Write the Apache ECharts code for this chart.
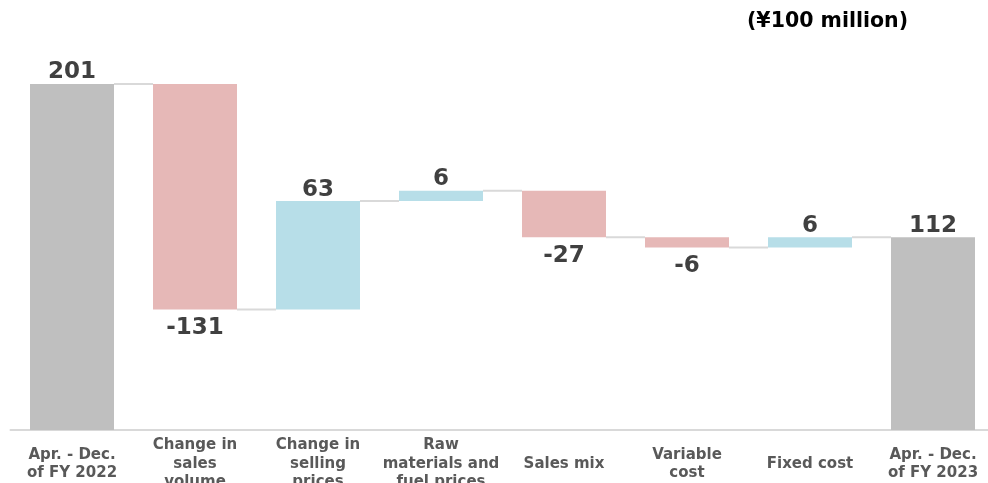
<!DOCTYPE html>
<html>
<head>
<meta charset="utf-8">
<script src="https://cdn.jsdelivr.net/npm/echarts@6/dist/echarts.min.js"></script>
<style>html,body{margin:0;padding:0;background:#fff}#c{width:988px;height:483px}</style>
</head>
<body>
<div id="c"></div>
<script>
const categories = ["Apr. - Dec.\nof FY 2022","Change in\nsales\nvolume","Change in\nselling\nprices","Raw\nmaterials and\nfuel prices","Sales mix","Variable\ncost","Fixed cost","Apr. - Dec.\nof FY 2023"];
const values = [201, -131, 63, 6, -27, -6, 6, 112];
const kinds = ["total","delta","delta","delta","delta","delta","delta","total"];
const unitLabel = "(¥100 million)";

const colors = {total:"#bfbfbf", pos:"#b7dee8", neg:"#e6b8b7"};
const FONT = "DejaVu Sans";
const BAR_W = 84;

// compute waterfall bases
const bases = [], heights = [], levels = [];
let run = 0;
values.forEach((v,i)=>{
  if (kinds[i]==="total"){ bases.push(0); heights.push(v); run = v; }
  else if (v>=0){ bases.push(run); heights.push(v); run += v; }
  else { bases.push(run+v); heights.push(-v); run += v; }
  levels.push(run);
});

const barData = heights.map((h,i)=>{
  const v = values[i];
  const col = kinds[i]==="total" ? colors.total : (v>=0?colors.pos:colors.neg);
  return {
    value: h,
    itemStyle:{color: col},
    label:{show:true, position: v>=0?'top':'bottom', distance: v>=0?0:7, formatter: String(v)}
  };
});

const chart = echarts.init(document.getElementById('c'), null, {renderer:'canvas'});
chart.setOption({
  animation:false,
  grid:{left:10.5, width:984, top:51.3, height:378.7, containLabel:false, outerBoundsMode:'none'},
  xAxis:{
    type:'category', data:categories,
    axisLine:{lineStyle:{color:'#d9d9d9', width:2}},
    axisTick:{show:false},
    axisLabel:{interval:0, color:'#595959', fontFamily:FONT, fontWeight:'bold', fontSize:15, lineHeight:18.5, verticalAlign:'middle', margin:34, align:'center'}
  },
  yAxis:{type:'value', min:0, max:220, show:false, splitLine:{show:false}},
  graphic:[{type:'text', left:747, top:11, style:{text:unitLabel, fill:'#000', font:'bold 20.5px "'+FONT+'"'}}],
  series:[
    {
      type:'custom', z:1,
      renderItem:function(params, api){
        const i = params.dataIndex;
        if (i >= levels.length-1) return;
        const p1 = api.coord([i, levels[i]]);
        const p2 = api.coord([i+1, levels[i]]);
        return {type:'line', shape:{x1:p1[0]+BAR_W/2, y1:p1[1], x2:p2[0]-BAR_W/2, y2:p2[1]}, style:{stroke:'#d9d9d9', lineWidth:2}};
      },
      data: levels.map((l,i)=>[i,l]),
      silent:true
    },
    {type:'bar', stack:'w', data:bases, barWidth:BAR_W, itemStyle:{color:'transparent'}, silent:true, z:2},
    {type:'bar', stack:'w', data:barData, barWidth:BAR_W, z:3,
     label:{color:'#404040', fontFamily:FONT, fontWeight:'bold', fontSize:23}}
  ]
});
</script>
</body>
</html>
